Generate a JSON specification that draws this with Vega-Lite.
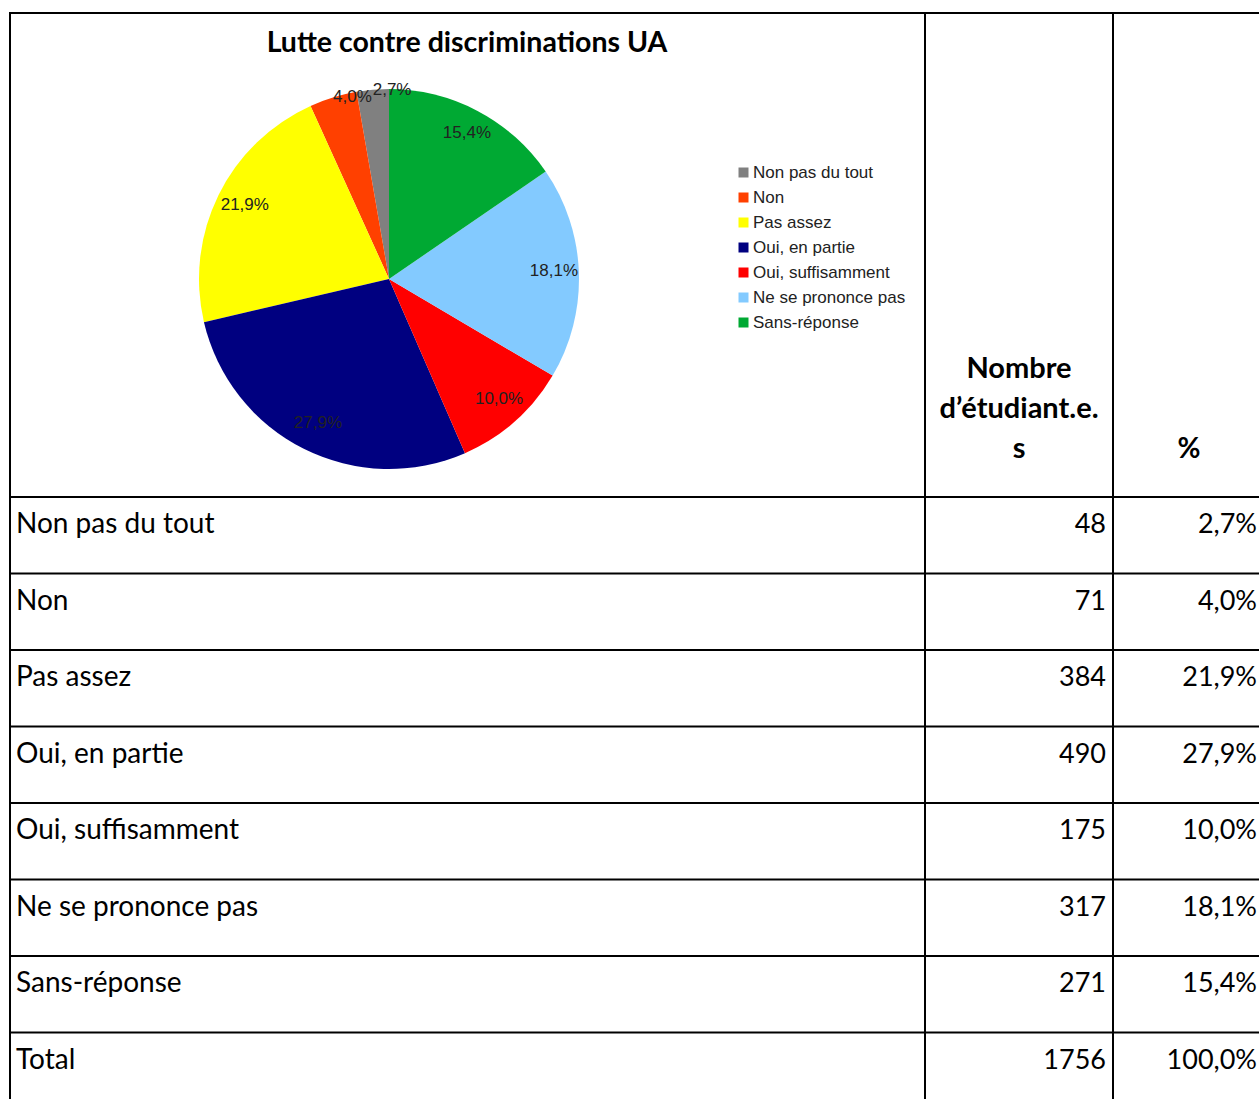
{
  "$schema": "https://vega.github.io/schema/vega-lite/v6.json",
  "width": 1259,
  "height": 1099,
  "autosize": {"type": "none"},
  "padding": 0,
  "background": "white",
  "config": {
    "view": {"stroke": null},
    "locale": {"number": {"decimal": ",", "thousands": " ", "grouping": [3], "currency": ["", " €"]}}
  },
  "data": {"values": [
    {"rang": 1, "reponse": "Non pas du tout", "nombre": 48, "pct": 0.027},
    {"rang": 2, "reponse": "Non", "nombre": 71, "pct": 0.040},
    {"rang": 3, "reponse": "Pas assez", "nombre": 384, "pct": 0.219},
    {"rang": 4, "reponse": "Oui, en partie", "nombre": 490, "pct": 0.279},
    {"rang": 5, "reponse": "Oui, suffisamment", "nombre": 175, "pct": 0.100},
    {"rang": 6, "reponse": "Ne se prononce pas", "nombre": 317, "pct": 0.181},
    {"rang": 7, "reponse": "Sans-réponse", "nombre": 271, "pct": 0.154},
    {"rang": 8, "reponse": "Total", "nombre": 1756, "pct": 1.0}
  ]},
  "layer": [
    {
      "transform": [{"filter": "datum.reponse !== 'Total'"}],
      "mark": {"type": "arc", "outerRadius": 190},
      "encoding": {
        "x": {"value": 389},
        "y": {"value": 279},
        "theta": {"field": "nombre", "type": "quantitative", "stack": true},
        "order": {"field": "rang", "sort": "descending"},
        "color": {
          "field": "reponse", "type": "nominal",
          "scale": {
            "domain": ["Non pas du tout", "Non", "Pas assez", "Oui, en partie", "Oui, suffisamment", "Ne se prononce pas", "Sans-réponse"],
            "range": ["#808080", "#ff4000", "#ffff00", "#000080", "#ff0000", "#83caff", "#00a933"]
          },
          "legend": {
            "title": null, "orient": "none", "legendX": 735, "legendY": 164,
            "symbolType": "square", "symbolSize": 100, "symbolStrokeWidth": 0,
            "labelFont": "Liberation Sans", "labelFontSize": 17, "labelColor": "#222",
            "rowPadding": 7, "labelOffset": 1, "padding": 0
          }
        }
      }
    },
    {
      "transform": [{"filter": "datum.reponse !== 'Total'"}],
      "mark": {"type": "text", "font": "Liberation Sans", "fontSize": 17, "align": "center", "baseline": "middle", "color": "#222"},
      "encoding": {
        "x": {"value": 391},
        "y": {"value": 277},
        "theta": {"field": "nombre", "type": "quantitative", "stack": true},
        "order": {"field": "rang", "sort": "descending"},
        "radius": {"value": 163},
        "text": {"condition": {"test": "datum.pct < 0.05", "value": ""}, "field": "pct", "type": "quantitative", "format": ".1%"}
      }
    },
    {
      "transform": [{"filter": "datum.reponse !== 'Total'"}],
      "mark": {"type": "text", "font": "Liberation Sans", "fontSize": 17, "align": "left", "baseline": "middle", "color": "#222"},
      "encoding": {
        "x": {"value": 389},
        "y": {"value": 279},
        "theta": {"field": "nombre", "type": "quantitative", "stack": true},
        "order": {"field": "rang", "sort": "descending"},
        "radius": {"value": 190},
        "text": {"condition": {"test": "datum.pct >= 0.05", "value": ""}, "field": "pct", "type": "quantitative", "format": ".1%"}
      }
    },
    {
      "mark": {"type": "rule", "stroke": "black", "strokeWidth": 2},
      "encoding": {
        "y": {"field": "reponse", "type": "nominal", "bandPosition": 0,
              "scale": {"type": "band", "domain": ["Non pas du tout", "Non", "Pas assez", "Oui, en partie", "Oui, suffisamment", "Ne se prononce pas", "Sans-réponse", "Total"], "range": [497, 1109], "paddingInner": 0, "paddingOuter": 0},
              "axis": null},
        "x": {"value": 10},
        "x2": {"value": 1259}
      }
    },
    {
      "data": {"values": [{}]},
      "mark": {"type": "rule", "stroke": "black", "strokeWidth": 2},
      "encoding": {"y": {"value": 13}, "x": {"value": 9}, "x2": {"value": 1259}}
    },
    {
      "data": {"values": [{}]},
      "mark": {"type": "rule", "stroke": "black", "strokeWidth": 2},
      "encoding": {"x": {"value": 10}, "y": {"value": 12}, "y2": {"value": 1099}}
    },
    {
      "data": {"values": [{}]},
      "mark": {"type": "rule", "stroke": "black", "strokeWidth": 2},
      "encoding": {"x": {"value": 925}, "y": {"value": 12}, "y2": {"value": 1099}}
    },
    {
      "data": {"values": [{}]},
      "mark": {"type": "rule", "stroke": "black", "strokeWidth": 2},
      "encoding": {"x": {"value": 1113}, "y": {"value": 12}, "y2": {"value": 1099}}
    },
    {
      "mark": {"type": "text", "font": "Lato", "fontSize": 28, "align": "left", "baseline": "middle", "color": "black"},
      "encoding": {
        "y": {"field": "reponse", "type": "nominal", "bandPosition": 0.37,
              "scale": {"type": "band", "domain": ["Non pas du tout", "Non", "Pas assez", "Oui, en partie", "Oui, suffisamment", "Ne se prononce pas", "Sans-réponse", "Total"], "range": [497, 1109], "paddingInner": 0, "paddingOuter": 0},
              "axis": null},
        "x": {"value": 16},
        "text": {"field": "reponse", "type": "nominal"}
      }
    },
    {
      "mark": {"type": "text", "font": "Lato", "fontSize": 27, "align": "right", "baseline": "middle", "color": "black"},
      "encoding": {
        "y": {"field": "reponse", "type": "nominal", "bandPosition": 0.37,
              "scale": {"type": "band", "domain": ["Non pas du tout", "Non", "Pas assez", "Oui, en partie", "Oui, suffisamment", "Ne se prononce pas", "Sans-réponse", "Total"], "range": [497, 1109], "paddingInner": 0, "paddingOuter": 0},
              "axis": null},
        "x": {"value": 1106},
        "text": {"field": "nombre", "type": "quantitative", "format": "d"}
      }
    },
    {
      "mark": {"type": "text", "font": "Lato", "fontSize": 27, "align": "right", "baseline": "middle", "color": "black"},
      "encoding": {
        "y": {"field": "reponse", "type": "nominal", "bandPosition": 0.37,
              "scale": {"type": "band", "domain": ["Non pas du tout", "Non", "Pas assez", "Oui, en partie", "Oui, suffisamment", "Ne se prononce pas", "Sans-réponse", "Total"], "range": [497, 1109], "paddingInner": 0, "paddingOuter": 0},
              "axis": null},
        "x": {"value": 1257},
        "text": {"field": "pct", "type": "quantitative", "format": ".1%"}
      }
    },
    {
      "data": {"values": [{}]},
      "mark": {"type": "text", "text": "Lutte contre discriminations UA", "font": "Lato", "fontSize": 28.5, "fontWeight": "bold", "align": "center", "baseline": "middle", "color": "black"},
      "encoding": {"x": {"value": 467}, "y": {"value": 43}}
    },
    {
      "data": {"values": [{}]},
      "mark": {"type": "text", "text": ["Nombre", "d’étudiant.e.", "s"], "lineHeight": 40, "font": "Lato", "fontSize": 29, "fontWeight": "bold", "align": "center", "baseline": "alphabetic", "color": "black"},
      "encoding": {"x": {"value": 1019}, "y": {"value": 378}}
    },
    {
      "data": {"values": [{}]},
      "mark": {"type": "text", "text": "%", "font": "Lato", "fontSize": 28, "fontWeight": "bold", "align": "center", "baseline": "alphabetic", "color": "black"},
      "encoding": {"x": {"value": 1189}, "y": {"value": 458}}
    }
  ]
}
